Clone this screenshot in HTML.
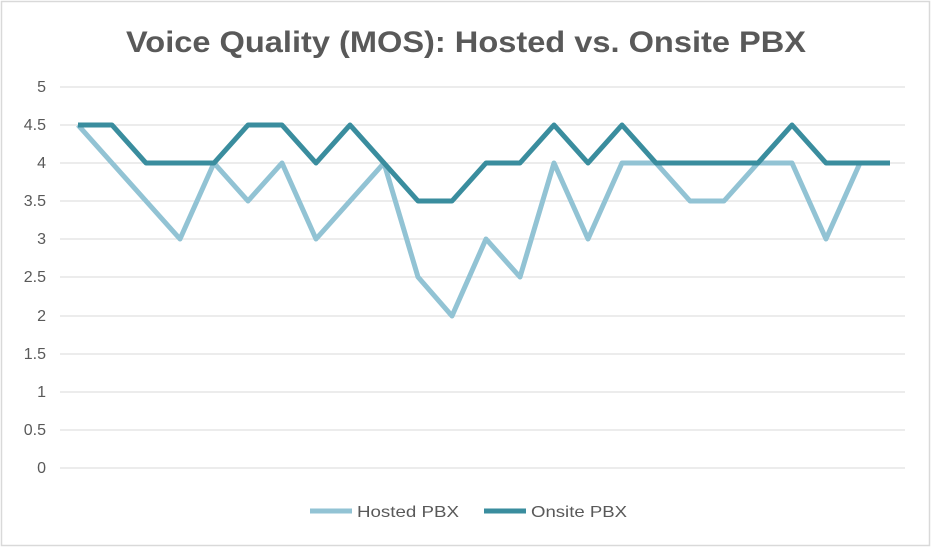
<!DOCTYPE html>
<html><head><meta charset="utf-8"><style>
html,body{margin:0;padding:0;background:#fff;}
svg{display:block;font-family:"Liberation Sans",sans-serif;}
</style></head><body>
<svg width="935" height="551" viewBox="0 0 935 551">
<rect x="1.5" y="1.5" width="928" height="544" fill="#fff" stroke="#d9d9d9" stroke-width="1.5"/>
<text x="126" y="52" font-size="30" font-weight="bold" fill="#595959" textLength="680" lengthAdjust="spacingAndGlyphs">Voice Quality (MOS): Hosted vs. Onsite PBX</text>
<g stroke="#d9d9d9" stroke-width="1">
<line x1="60" x2="905" y1="87" y2="87"/><line x1="60" x2="905" y1="125" y2="125"/>
<line x1="60" x2="905" y1="163" y2="163"/><line x1="60" x2="905" y1="201" y2="201"/>
<line x1="60" x2="905" y1="239" y2="239"/><line x1="60" x2="905" y1="277" y2="277"/>
<line x1="60" x2="905" y1="316" y2="316"/><line x1="60" x2="905" y1="354" y2="354"/>
<line x1="60" x2="905" y1="392" y2="392"/><line x1="60" x2="905" y1="430" y2="430"/>
<line x1="60" x2="905" y1="468" y2="468"/>
</g>
<g font-size="16" fill="#595959" text-anchor="end">
<text x="46" y="92">5</text><text x="46" y="130">4.5</text><text x="46" y="168">4</text>
<text x="46" y="206">3.5</text><text x="46" y="244">3</text><text x="46" y="282">2.5</text>
<text x="46" y="321">2</text><text x="46" y="359">1.5</text><text x="46" y="397">1</text>
<text x="46" y="435">0.5</text><text x="46" y="473">0</text>
</g>
<polyline fill="none" stroke="#92c3d4" stroke-width="5" stroke-linejoin="round" points="78,125 112,163 146,201 180,239 214,163 248,201 282,163 316,239 350,201 384,163 418,277 452,316 486,239 520,277 554,163 588,239 622,163 656,163 690,201 724,201 758,163 792,163 826,239 860,163 890,163"/>
<polyline fill="none" stroke="#3a8d9e" stroke-width="5" stroke-linejoin="round" points="78,125 112,125 146,163 180,163 214,163 248,125 282,125 316,163 350,125 384,163 418,201 452,201 486,163 520,163 554,125 588,163 622,125 656,163 690,163 724,163 758,163 792,125 826,163 860,163 890,163"/>
<line x1="310" x2="352" y1="511" y2="511" stroke="#92c3d4" stroke-width="5"/>
<text x="357" y="517" font-size="16" fill="#595959" textLength="102" lengthAdjust="spacingAndGlyphs">Hosted PBX</text>
<line x1="484" x2="526" y1="511" y2="511" stroke="#3a8d9e" stroke-width="5"/>
<text x="531" y="517" font-size="16" fill="#595959" textLength="96" lengthAdjust="spacingAndGlyphs">Onsite PBX</text>
</svg>
</body></html>
